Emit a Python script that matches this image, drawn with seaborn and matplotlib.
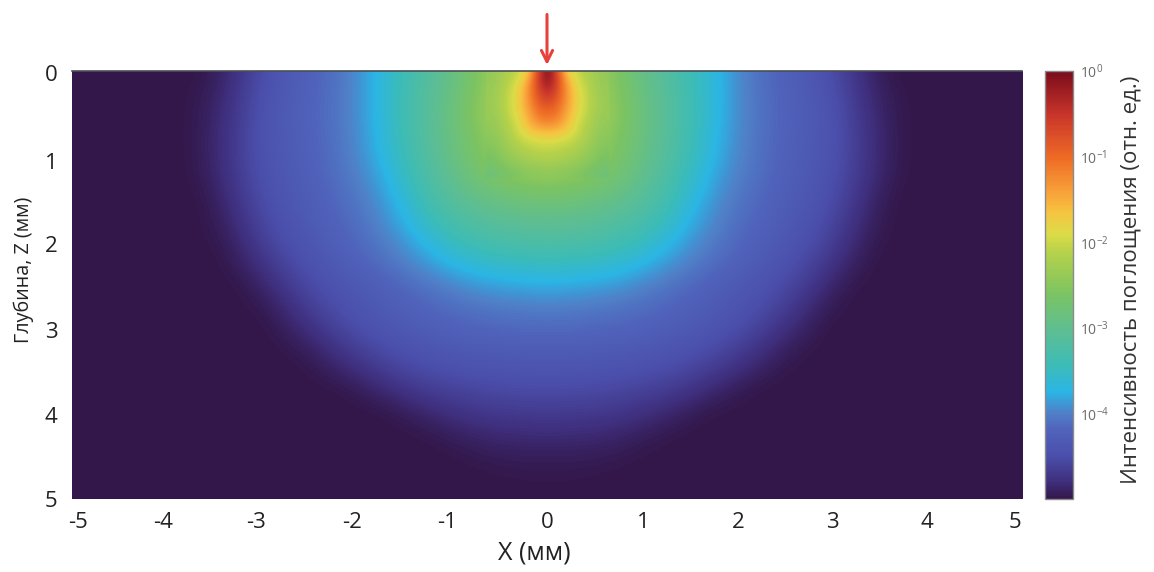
import numpy as np
import pandas as pd
import seaborn as sns
import matplotlib
matplotlib.use("Agg")
import matplotlib.pyplot as plt
from matplotlib.colors import LinearSegmentedColormap
from matplotlib.transforms import ScaledTranslation

# log10 of absorption intensity, one half of the
# (left/right symmetric) pattern. Columns: |x| in mm; rows: depth z in mm.
half_x = [0.25 * i for i in range(21)]
depth_z = [0.25 * i for i in range(21)]
BACKGROUND = -5.0
rows_z = [
    [-1.0, -2.0, -2.3, -2.6, -2.9, -3.15, -3.4, -3.65, -3.92, -4.1, -4.22, -4.33, -4.5, -4.72, -4.92],
    [-1.0, -1.9, -2.25, -2.55, -2.86, -3.1, -3.37, -3.65, -3.92, -4.09, -4.21, -4.31, -4.45, -4.68, -4.88, -4.98],
    [-1.2, -1.8, -2.2, -2.5, -2.82, -3.08, -3.36, -3.65, -3.92, -4.08, -4.2, -4.3, -4.42, -4.65, -4.85, -4.97],
    [-1.8, -2.05, -2.3, -2.58, -2.84, -3.1, -3.38, -3.68, -3.93, -4.09, -4.21, -4.31, -4.42, -4.63, -4.83, -4.97],
    [-2.15, -2.25, -2.42, -2.63, -2.88, -3.13, -3.42, -3.72, -3.95, -4.1, -4.22, -4.32, -4.43, -4.63, -4.83, -4.97],
    [-2.45, -2.5, -2.6, -2.75, -2.98, -3.22, -3.52, -3.8, -4.0, -4.12, -4.24, -4.34, -4.46, -4.65, -4.85, -4.98],
    [-2.75, -2.78, -2.85, -2.95, -3.1, -3.33, -3.63, -3.88, -4.05, -4.16, -4.27, -4.37, -4.5, -4.7, -4.9],
    [-3.0, -3.02, -3.07, -3.16, -3.28, -3.47, -3.75, -3.95, -4.1, -4.2, -4.31, -4.42, -4.56, -4.76, -4.94],
    [-3.22, -3.24, -3.28, -3.36, -3.48, -3.68, -3.88, -4.03, -4.15, -4.25, -4.36, -4.48, -4.63, -4.83, -4.97],
    [-3.5, -3.52, -3.55, -3.62, -3.72, -3.87, -4.0, -4.12, -4.22, -4.32, -4.44, -4.57, -4.74, -4.9],
    [-3.78, -3.8, -3.83, -3.88, -3.97, -4.06, -4.15, -4.24, -4.33, -4.42, -4.53, -4.68, -4.85, -4.98],
    [-4.0, -4.02, -4.04, -4.07, -4.12, -4.17, -4.24, -4.31, -4.4, -4.5, -4.64, -4.8, -4.95],
    [-4.15, -4.15, -4.17, -4.19, -4.22, -4.27, -4.32, -4.4, -4.49, -4.62, -4.76, -4.9],
    [-4.29, -4.29, -4.3, -4.32, -4.35, -4.39, -4.45, -4.53, -4.64, -4.76, -4.9, -4.98],
    [-4.42, -4.42, -4.43, -4.45, -4.48, -4.52, -4.59, -4.68, -4.79, -4.9, -4.98],
    [-4.55, -4.55, -4.56, -4.59, -4.63, -4.68, -4.76, -4.86, -4.95],
    [-4.68, -4.69, -4.7, -4.73, -4.78, -4.85, -4.93, -4.99],
    [-4.82, -4.83, -4.84, -4.87, -4.92, -4.97],
    [-4.93, -4.93, -4.94, -4.96, -4.99],
    [-4.98, -4.98, -4.99],
    [],
]

# Finer reading of the hot spot beneath the entry point.
spot_half_x = [0.0, 0.1, 0.2, 0.3, 0.4, 0.5, 0.6]
spot_z = [0.1 * i for i in range(13)]
spot_rows = [
    [0.0, -0.7, -1.7, -2.0, -2.15, -2.3, -2.42],
    [-0.1, -0.6, -1.45, -1.9, -2.1, -2.28, -2.4],
    [-0.3, -0.7, -1.3, -1.8, -2.03, -2.25, -2.38],
    [-0.55, -0.8, -1.3, -1.75, -2.0, -2.23, -2.36],
    [-0.8, -0.95, -1.35, -1.75, -2.0, -2.22, -2.35],
    [-1.0, -1.1, -1.45, -1.8, -2.03, -2.25, -2.37],
    [-1.2, -1.3, -1.55, -1.88, -2.1, -2.28, -2.4],
    [-1.55, -1.6, -1.72, -1.95, -2.15, -2.33, -2.44],
    [-1.85, -1.88, -1.95, -2.05, -2.22, -2.38, -2.5],
    [-2.02, -2.05, -2.1, -2.18, -2.3, -2.43, -2.55],
    [-2.15, -2.17, -2.22, -2.3, -2.4, -2.5, -2.62],
    [-2.3, -2.32, -2.36, -2.42, -2.5, -2.6, -2.7],
    [-2.45, -2.47, -2.5, -2.55, -2.62, -2.7, -2.8],
]

x_ticks = [-5, -4, -3, -2, -1, 0, 1, 2, 3, 4, 5]
z_ticks = [0, 1, 2, 3, 4, 5]
cbar_ticks = [0, -1, -2, -3, -4]
cbar_tick_labels = ["$10^{0}$", "$10^{-1}$", "$10^{-2}$", "$10^{-3}$", "$10^{-4}$"]
x_label = "X (мм)"
z_label = "Глубина, Z (мм)"
cbar_label = "Интенсивность поглощения (отн. ед.)"

sns.set_style("white")
plt.rcParams["font.family"] = ["Open Sans", "DejaVu Sans"]
plt.rcParams["mathtext.default"] = "regular"

cmap = LinearSegmentedColormap.from_list("absorb", [
    (0.00, "#33174a"), (0.04, "#3f2f7e"), (0.10, "#4b4fac"), (0.16, "#5063bb"),
    (0.20, "#4f80c8"), (0.25, "#2bb5e5"), (0.31, "#3cbcb8"), (0.39, "#5cbe94"),
    (0.48, "#7cc462"), (0.58, "#b8d24a"), (0.62, "#dcdc48"), (0.67, "#f6c440"),
    (0.72, "#f8a03a"), (0.80, "#ee6a25"), (0.90, "#c8342a"), (1.00, "#7a0c1c"),
])

W, H = 1154, 572
fig = plt.figure(figsize=(W / 100, H / 100), dpi=100)
ax = fig.add_axes([72 / W, 1 - 499 / H, 950 / W, 428 / H])
cax = fig.add_axes([1045 / W, 1 - 499 / H, 28 / W, 428 / H])


def mirrored(rows):
    return np.array([r[:0:-1] + r for r in rows])


half = [r + [BACKGROUND] * (len(half_x) - len(r)) for r in rows_z]
full_x = [-v for v in half_x[:0:-1]] + half_x
table = pd.DataFrame(mirrored(half), index=depth_z, columns=full_x)
spot = mirrored(spot_rows)

sns.heatmap(table, ax=ax, cbar_ax=cax, cmap=cmap, vmin=-5, vmax=0,
            xticklabels=False, yticklabels=False,
            cbar_kws={"ticks": cbar_ticks})


def col(x):
    return (x - full_x[0]) / 0.25 + 0.5


def row(z):
    return (z - depth_z[0]) / 0.25 + 0.5


# Smooth rendering of the same read values, as in the continuous original.
ax.imshow(table.values, cmap=cmap, vmin=-5, vmax=0, aspect="auto",
          interpolation="bicubic", extent=(0, table.shape[1], table.shape[0], 0), zorder=2)
ax.imshow(spot, cmap=cmap, vmin=-5, vmax=0, aspect="auto", interpolation="bicubic",
          extent=(col(-0.65), col(0.65), row(1.25), row(-0.05)), zorder=3)
ax.set_xlim(col(-5.05), col(5.05))
ax.set_ylim(row(5.0), row(0.0))

for s in ax.spines.values():
    s.set_visible(False)
ax.spines["top"].set_visible(True)
ax.spines["top"].set_color("#4a4f55")
ax.spines["top"].set_linewidth(1.2)
ax.spines["top"].set_zorder(6)

ax.set_xticks([col(v) for v in x_ticks])
ax.set_xticklabels([str(v) for v in x_ticks], fontsize=16, color="#222222")
ax.set_yticks([row(v) for v in z_ticks])
ax.set_yticklabels([str(v) for v in z_ticks], fontsize=16, color="#222222")
ax.tick_params(axis="x", bottom=False, top=True, labelbottom=True, direction="in",
               length=6, width=1.0, color="#2f5a5c", pad=9)
ax.tick_params(axis="y", left=False, pad=7)
for t in ax.get_xticklines():
    t.set_zorder(6)

# The original's tick labels sit slightly off their ticks.
x_nudges = [1, -8, -9, -7, -6, 0, 2, 3, 3, 4, -2]
z_nudges = [-2, -4, -2, -2, -2, 0]
for lab, dx in zip(ax.get_xticklabels(), x_nudges):
    lab.set_transform(lab.get_transform() + ScaledTranslation(dx / 100, 0, fig.dpi_scale_trans))
for lab, dy in zip(ax.get_yticklabels(), z_nudges):
    lab.set_transform(lab.get_transform() + ScaledTranslation(0, dy / 100, fig.dpi_scale_trans))

ax.set_xlabel(x_label, fontsize=18, color="#222222", x=(534 - 72) / 950, labelpad=6)
ax.set_ylabel(z_label, fontsize=14.2, color="#222222", y=(499 - 270) / 428, labelpad=8)

ax.annotate("", xy=(col(0), row(-0.07)), xytext=(col(0), row(-0.66)),
            annotation_clip=False,
            arrowprops=dict(arrowstyle="->", color="#e8403a", lw=2.2,
                            mutation_scale=20, shrinkA=0, shrinkB=0))

cbar = ax.collections[0].colorbar
cbar.set_ticklabels(cbar_tick_labels)
cax.tick_params(axis="y", right=True, length=2, width=0.8, color="#444444", direction="in",
                labelsize=10, labelcolor="#6a6a6a", pad=5)
cbar.outline.set_edgecolor("#8a8a8a")
cbar.outline.set_linewidth(1.0)
cbar.set_label(cbar_label, fontsize=16, color="#333333", labelpad=8, y=(499 - 280) / 428)

fig.savefig("out.png", dpi=100)
